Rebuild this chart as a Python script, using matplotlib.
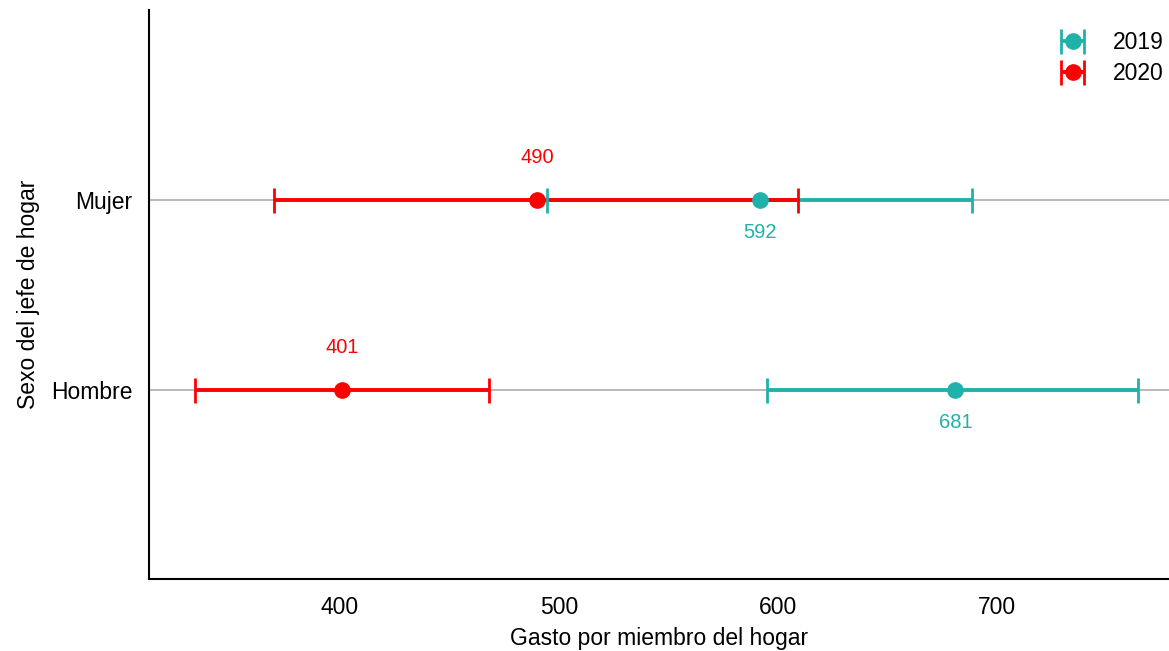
import numpy as np
import matplotlib.pyplot as plt

plt.rcParams['font.family'] = ['Liberation Sans', 'DejaVu Sans']

# data
groups = ['Hombre', 'Mujer']
years = ['2019', '2020']
means = {'2019': [681, 592], '2020': [401, 490]}
lower = {'2019': [595, 494.5], '2020': [334, 370]}
upper = {'2019': [764.5, 688.5], '2020': [468, 609]}
colors = {'2019': '#20b2aa', '2020': '#ff0000'}

fig, ax = plt.subplots(figsize=(11.69, 6.51), dpi=100)
ypos = np.arange(len(groups))

for yv in ypos:
    ax.axhline(yv, color='#b3b3b3', lw=1.3, zorder=0)

for i, yr in enumerate(years):
    m = np.array(means[yr])
    err = np.vstack([m - np.array(lower[yr]), np.array(upper[yr]) - m])
    eb = ax.errorbar(m, ypos, xerr=err, fmt='none', ecolor=colors[yr],
                     elinewidth=2.8, capsize=9, capthick=2, zorder=2 + i)
    for cap in eb[1]:
        cap.set_zorder(5)

for yr in years:
    ax.plot(means[yr], ypos, 'o', color=colors[yr], ms=11, zorder=6)

# value labels: 2019 below the point, 2020 above
for yr, off in [('2019', -24), ('2020', 30)]:
    for x, yv in zip(means[yr], ypos):
        ax.annotate(str(x), (x, yv), xytext=(0, off), textcoords='offset points',
                    ha='center', va='center', color=colors[yr], fontsize=14.5)

# legend handles with error caps (dummy, not drawn)
handles = []
for yr in years:
    h = ax.errorbar([np.nan], [np.nan], xerr=[[1], [1]], fmt='o', color=colors[yr],
                    ms=11, elinewidth=2.8, capsize=9, capthick=2)
    handles.append(h)
ax.legend(handles, years, loc='upper right', frameon=False, fontsize=16.5,
          handlelength=1.1, handletextpad=1.2, bbox_to_anchor=(1.006, 0.982),
          borderaxespad=0.1, labelspacing=0.35)

ax.set_xlim(313, 778.5)
ax.set_ylim(-1, 2)
ax.set_xticks([400, 500, 600, 700])
ax.set_yticks(ypos)
ax.set_yticklabels(groups)
ax.tick_params(axis='both', length=0, labelsize=16.5)
ax.tick_params(axis='x', pad=12)
ax.tick_params(axis='y', pad=12)
ax.set_xlabel('Gasto por miembro del hogar', fontsize=16.5, labelpad=6)
ax.set_ylabel('Sexo del jefe de hogar', fontsize=16.5, labelpad=8)

for s in ['top', 'right']:
    ax.spines[s].set_visible(False)
for s in ['left', 'bottom']:
    ax.spines[s].set_linewidth(1.5)

fig.subplots_adjust(left=0.1275, right=1.0, top=0.985, bottom=0.11)
fig.savefig('out.png', dpi=100)
